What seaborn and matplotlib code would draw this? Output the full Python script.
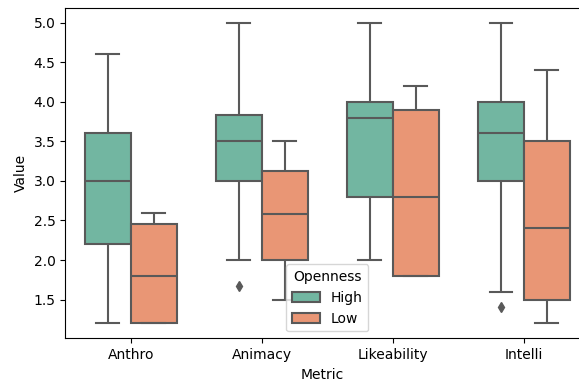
import matplotlib
matplotlib.use("Agg")
import matplotlib.pyplot as plt
import seaborn as sns
import pandas as pd

plt.rcParams["savefig.bbox"] = "standard"

metrics = ["Anthro", "Animacy", "Likeability", "Intelli"]
groups = ["High", "Low"]

anthro_high = [1.2, 1.8, 2.2, 2.6, 3.0, 3.4, 3.6, 4.0, 4.6]
anthro_low = [1.2, 1.2, 1.2, 1.4, 1.8, 2.2, 2.45, 2.6, 2.6]
animacy_high = [1.67, 2.0, 3.0, 3.17, 3.5, 3.67, 3.83, 4.33, 5.0]
animacy_low = [1.5, 1.83, 2.0, 2.33, 2.58, 2.83, 3.12, 3.33, 3.5]
likeability_high = [2.0, 2.4, 2.8, 3.4, 3.8, 4.0, 4.0, 4.6, 5.0]
likeability_low = [1.8, 1.8, 1.8, 2.2, 2.8, 3.4, 3.9, 4.0, 4.2]
intelli_high = [1.4, 1.6, 3.0, 3.4, 3.6, 3.8, 4.0, 4.4, 5.0]
intelli_low = [1.2, 1.4, 1.5, 2.0, 2.4, 3.0, 3.5, 4.0, 4.4]

series = {
    ("Anthro", "High"): anthro_high,
    ("Anthro", "Low"): anthro_low,
    ("Animacy", "High"): animacy_high,
    ("Animacy", "Low"): animacy_low,
    ("Likeability", "High"): likeability_high,
    ("Likeability", "Low"): likeability_low,
    ("Intelli", "High"): intelli_high,
    ("Intelli", "Low"): intelli_low,
}

rows = []
for (m, g), vals in series.items():
    for v in vals:
        rows.append({"Metric": m, "Openness": g, "Value": v})
df = pd.DataFrame(rows)

gray = (0.35, 0.35, 0.35)
fig = plt.figure(figsize=(5.79, 3.83), dpi=100)
ax = fig.add_axes([0.1126, 0.1167, 0.8874, 0.8632])
sns.boxplot(data=df, x="Metric", y="Value", hue="Openness", order=metrics,
            hue_order=groups, palette="Set2", width=0.7, ax=ax,
            linewidth=1.5, linecolor=gray,
            flierprops={"marker": "d", "markerfacecolor": gray,
                        "markeredgecolor": gray, "markersize": 5})
ax.set_xlim(-0.5, 3.42)
ax.spines["right"].set_visible(False)
ax.legend(title="Openness", loc="lower center",
          bbox_to_anchor=(2.0 / 3.92, 0))
fig.savefig("out.png", dpi=100)
